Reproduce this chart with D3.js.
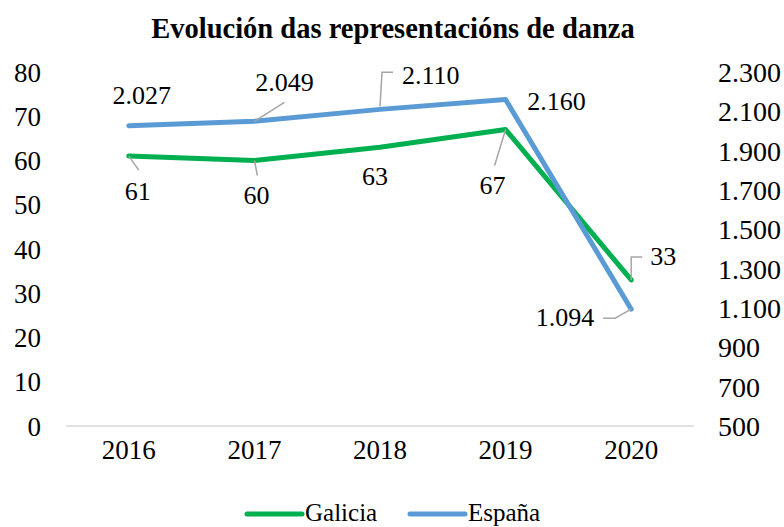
<!DOCTYPE html>
<html>
<head>
<meta charset="utf-8">
<script src="https://cdn.jsdelivr.net/npm/d3@7/dist/d3.min.js"></script>
<style>
  html, body { margin: 0; padding: 0; background: #fff; }
  svg { display: block; }
  text { font-family: "Liberation Serif", "DejaVu Serif", serif; fill: #000; }
</style>
</head>
<body>
<script>
// Data
const years = ["2016", "2017", "2018", "2019", "2020"];
const galicia = [61, 60, 63, 67, 33];
const espana = [2027, 2049, 2110, 2160, 1094];
const leftTicks = [0, 10, 20, 30, 40, 50, 60, 70, 80];
const rightTicks = [500, 700, 900, 1100, 1300, 1500, 1700, 1900, 2100, 2300];
const seriesNames = ["Galicia", "España"];

const W = 784, H = 527;
const margin = { left: 66, right: 90, top: 72, bottom: 101 };
const colors = { galicia: "#00b050", espana: "#5b9bd5", leader: "#a6a6a6", grid: "#d9d9d9" };

const svg = d3.select("body").append("svg").attr("width", W).attr("height", H);

const x = d3.scaleBand().domain(years).range([margin.left, W - margin.right]);
const cx = d => x(d) + x.bandwidth() / 2;
const yL = d3.scaleLinear().domain([0, 80]).range([H - margin.bottom, margin.top]);
const yR = d3.scaleLinear().domain([500, 2300]).range([H - margin.bottom, margin.top]);

// Title
svg.append("text")
  .attr("x", 393).attr("y", 38)
  .attr("text-anchor", "middle")
  .style("font-weight", "bold")
  .style("font-size", "28.5px")
  .text("Evolución das representacións de danza");

// Baseline
svg.append("line")
  .attr("x1", margin.left).attr("x2", W - margin.right)
  .attr("y1", yL(0)).attr("y2", yL(0))
  .attr("stroke", colors.grid).attr("stroke-width", 1.5);

const fmt = d3.formatLocale({ decimal: ",", thousands: ".", grouping: [3], currency: ["", "€"] }).format(",d");

// Left axis
const leftAxis = d3.axisLeft(yL).tickValues(leftTicks).tickSize(0).tickPadding(0);
svg.append("g").attr("transform", `translate(${margin.left - 25},0)`).call(leftAxis)
  .call(g => g.select(".domain").remove())
  .selectAll("text").style("font-size", "27px").attr("font-family", null).attr("dy", "0.34em");

// Right axis
const rightAxis = d3.axisRight(yR).tickValues(rightTicks).tickSize(0).tickPadding(0).tickFormat(fmt);
svg.append("g").attr("transform", `translate(${W - margin.right + 24},0)`).call(rightAxis)
  .call(g => g.select(".domain").remove())
  .selectAll("text").style("font-size", "28px").attr("font-family", null).attr("dy", "0.34em");

// Bottom axis
const bottomAxis = d3.axisBottom(x).tickSize(0).tickPadding(0);
svg.append("g").attr("transform", `translate(0,${yL(0) + 14})`).call(bottomAxis)
  .call(g => g.select(".domain").remove())
  .selectAll("text").style("font-size", "27px").attr("font-family", null).attr("dy", "0.71em");

// Lines
const lineL = d3.line().x((d, i) => cx(years[i])).y(d => yL(d));
const lineR = d3.line().x((d, i) => cx(years[i])).y(d => yR(d));

svg.append("path").datum(galicia).attr("d", lineL)
  .attr("fill", "none").attr("stroke", colors.galicia).attr("stroke-width", 5)
  .attr("stroke-linejoin", "round").attr("stroke-linecap", "round");
svg.append("path").datum(espana).attr("d", lineR)
  .attr("fill", "none").attr("stroke", colors.espana).attr("stroke-width", 5)
  .attr("stroke-linejoin", "round").attr("stroke-linecap", "round");

// Data label placement relative to each point: text offset, anchor, optional leader path
const galiciaLabelPos = [
  { dx: 9, dy: 44, anchor: "middle", leader: [[0, 0], [10, 14]] },
  { dx: 2, dy: 43, anchor: "middle", leader: [[0, 0], [3, 15]] },
  { dx: -5, dy: 38, anchor: "middle", leader: null },
  { dx: -13, dy: 64, anchor: "middle", leader: [[0, 0], [-11, 36]] },
  { dx: 19, dy: -15, anchor: "start", leader: [[0, 0], [0, -23], [11, -23]] }
];
const espanaLabelPos = [
  { dx: 13, dy: -22, anchor: "middle", leader: null },
  { dx: 30, dy: -30, anchor: "middle", leader: [[0, 0], [30, -19]] },
  { dx: 22, dy: -25, anchor: "start", leader: [[0, -3], [2, -37], [13, -37]] },
  { dx: 51, dy: 10, anchor: "middle", leader: null },
  { dx: -37, dy: 17, anchor: "end", leader: [[0, 0], [-16, 9], [-28, 9]] }
];

function drawLabels(values, scale, pos, format) {
  const g = svg.append("g");
  values.forEach((v, i) => {
    const px = cx(years[i]), py = scale(v);
    const p = pos[i];
    if (p.leader) {
      g.append("path")
        .attr("d", d3.line()(p.leader.map(([a, b]) => [px + a, py + b])))
        .attr("fill", "none").attr("stroke", colors.leader).attr("stroke-width", 1.5);
    }
    g.append("text")
      .attr("x", px + p.dx).attr("y", py + p.dy)
      .attr("text-anchor", p.anchor)
      .style("font-size", "26px")
      .text(format(v));
  });
}
drawLabels(galicia, yL, galiciaLabelPos, d => String(d));
drawLabels(espana, yR, espanaLabelPos, fmt);

// Legend
const legend = svg.append("g");
const legendItems = [
  { name: seriesNames[0], color: colors.galicia, x: 247 },
  { name: seriesNames[1], color: colors.espana, x: 410 }
];
legendItems.forEach(it => {
  legend.append("line")
    .attr("x1", it.x).attr("x2", it.x + 55).attr("y1", 514).attr("y2", 514)
    .attr("stroke", it.color).attr("stroke-width", 5).attr("stroke-linecap", "round");
  legend.append("text")
    .attr("x", it.x + 58).attr("y", 521)
    .style("font-size", "25px")
    .text(it.name);
});
</script>
</body>
</html>
